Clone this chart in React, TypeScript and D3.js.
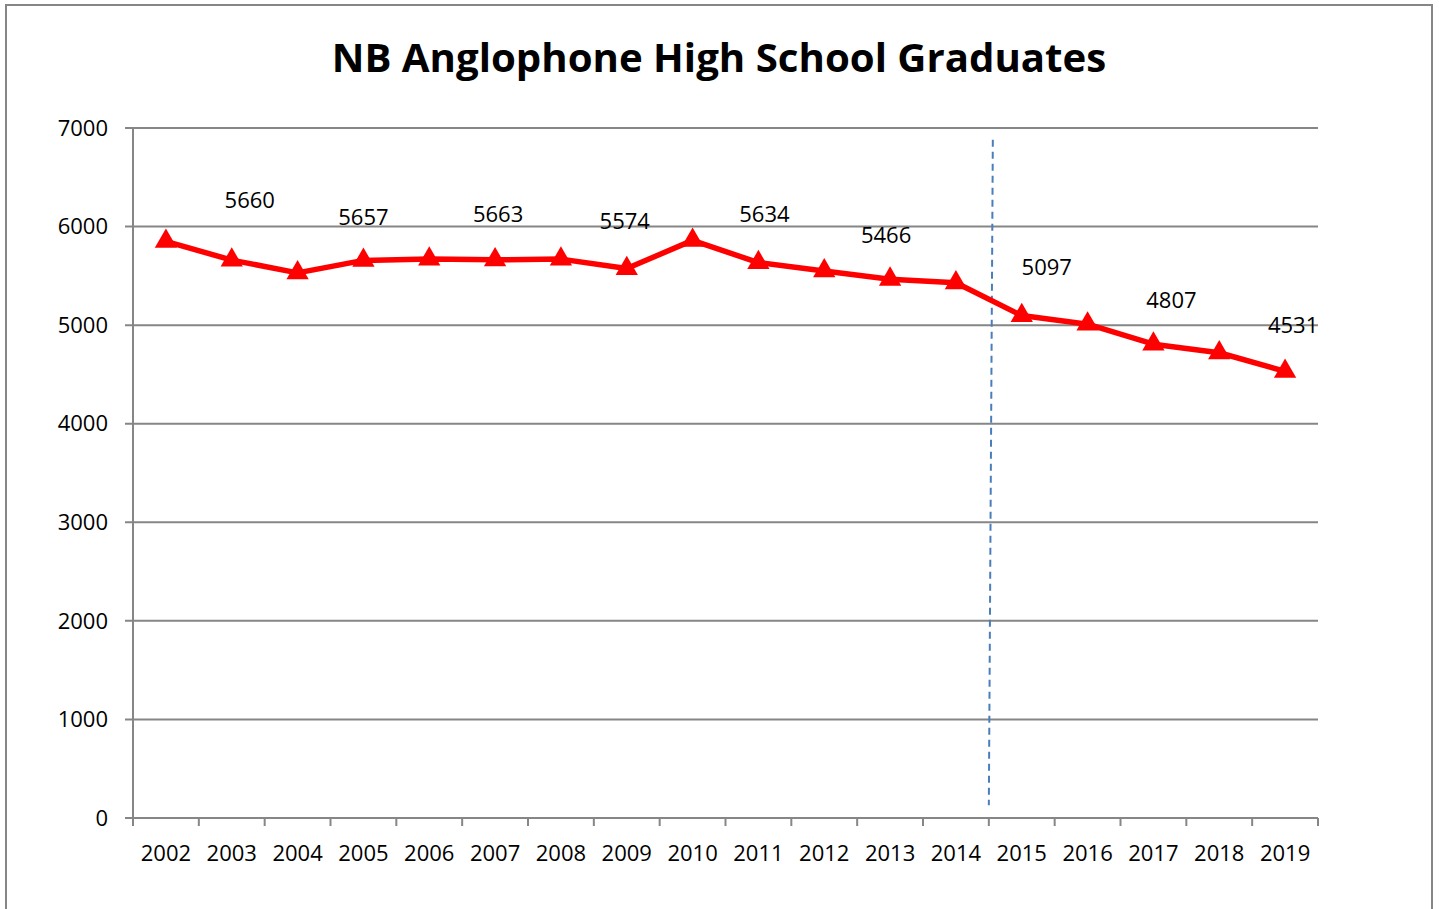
import * as d3 from "d3";

const years = ["2002", "2003", "2004", "2005", "2006", "2007", "2008", "2009", "2010",
  "2011", "2012", "2013", "2014", "2015", "2016", "2017", "2018", "2019"];
const graduates = [5850, 5660, 5530, 5657, 5670, 5663, 5670, 5574, 5860,
  5634, 5550, 5466, 5430, 5097, 5010, 4807, 4720, 4531];
const yTicks = [0, 1000, 2000, 3000, 4000, 5000, 6000, 7000];
// only odd years carry a value label in the original
const labelledYears = ["2003", "2005", "2007", "2009", "2011", "2013", "2015", "2017", "2019"];
// hand nudges of those labels (dx, dy) relative to their point
const labelNudge = [[18, -60], [0, -43], [3, -45], [-2, -47], [6, -48], [-4, -44], [25, -48], [18, -44], [8, -46]];

const title = "NB Anglophone High School Graduates";
const font = "'Open Sans', sans-serif";

export default function App() {
  const width = 1439;
  const height = 909;
  const margin = { top: 128, right: 121, bottom: 91, left: 133 };

  const x = d3.scaleBand()
    .domain(years)
    .range([margin.left, width - margin.right]);

  const y = d3.scaleLinear()
    .domain([0, 7000])
    .range([height - margin.bottom, margin.top]);

  const cx = (yr: string) => (x(yr) ?? 0) + x.bandwidth() / 2;

  const line = d3.line<number>()
    .x((_, i) => cx(years[i]))
    .y(d => y(d));

  const tri = d3.symbol().type(d3.symbolTriangle).size(215)();

  // dashed divider after 2014, slightly slanted like the original
  const divX = (x("2014") ?? 0) + x.bandwidth();

  const bottom = y(0);
  const boundaries = d3.range(years.length + 1).map(i => margin.left + i * x.bandwidth());

  return (
    <svg width={width} height={height}
      style={{ position: "absolute", left: 0, top: 0, background: "#fff" }}
      fontFamily={font}>
      <rect x={6} y={5} width={1426} height={920} fill="#fff" stroke="#868686" strokeWidth={2} />

      <text x={719} y={72} textAnchor="middle" fontSize={40.2} fontWeight={700} fill="#000">{title}</text>

      {/* gridlines */}
      {yTicks.map(t => (
        <line key={t} x1={margin.left - 8} x2={width - margin.right} y1={y(t)} y2={y(t)}
          stroke="#868686" strokeWidth={2} />
      ))}
      {yTicks.map(t => (
        <text key={"l" + t} x={108} y={y(t)} dy="0.35em" textAnchor="end" fontSize={22} fill="#000">{t}</text>
      ))}

      {/* axes */}
      <line x1={margin.left} x2={margin.left} y1={y(7000)} y2={bottom} stroke="#868686" strokeWidth={2} />
      {boundaries.map((b, i) => (
        <line key={"t" + i} x1={b} x2={b} y1={bottom} y2={bottom + 8} stroke="#868686" strokeWidth={2} />
      ))}
      {years.map(yr => (
        <text key={yr} x={cx(yr)} y={bottom + 35} dy="0.35em" textAnchor="middle" fontSize={22} fill="#000">{yr}</text>
      ))}

      <line x1={divX + 4} x2={divX} y1={y(6880)} y2={y(130)}
        stroke="#4a7ebb" strokeWidth={2} strokeDasharray="7,5" />

      <path d={line(graduates) ?? ""} fill="none" stroke="#ff0000" strokeWidth={5.5} strokeLinejoin="round" />
      {graduates.map((v, i) => (
        <path key={years[i]} d={tri ?? ""} transform={`translate(${cx(years[i])},${y(v)})`} fill="#ff0000" />
      ))}

      {labelledYears.map((yr, i) => {
        const v = graduates[years.indexOf(yr)];
        return (
          <text key={"v" + yr} x={cx(yr) + labelNudge[i][0]} y={y(v) + labelNudge[i][1]} dy="0.35em"
            textAnchor="middle" fontSize={22} fill="#000">{v}</text>
        );
      })}
    </svg>
  );
}
